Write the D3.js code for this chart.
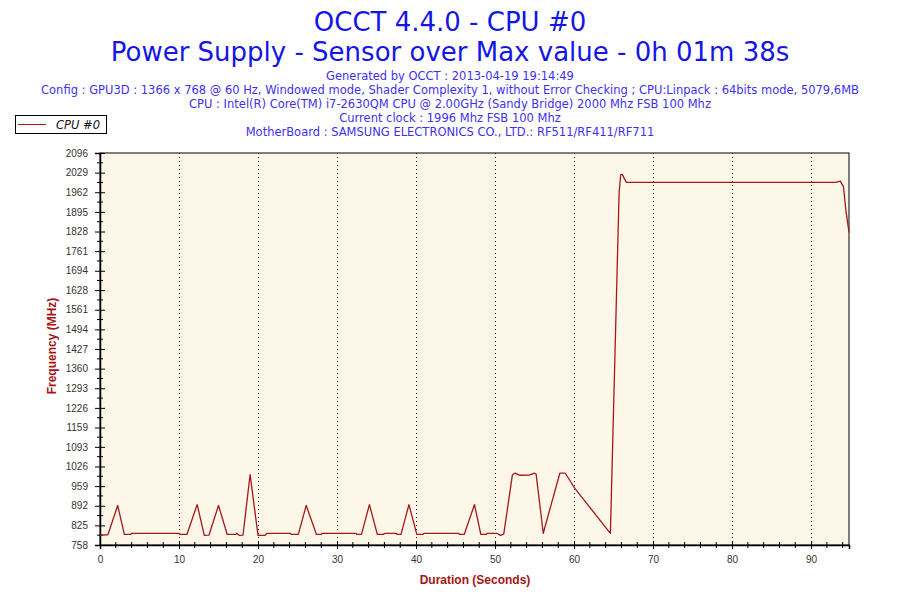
<!DOCTYPE html>
<html>
<head>
<meta charset="utf-8">
<script src="https://cdn.jsdelivr.net/npm/d3@7"></script>
<style>
  body { margin: 0; background: #fff; }
</style>
</head>
<body>
<script>
// values
const times = [0, 1.0, 2.24, 3.08, 3.9, 4.0, 10.0, 10.1, 11.0, 12.3, 13.2, 13.8, 15.0, 16.1, 17.2, 17.3, 17.6, 18.1,
  19.0, 20.0, 20.9, 21.1, 24.1, 24.2, 25.1, 26.1, 27.4, 28.0, 28.1, 32.4, 32.5, 33.1, 34.1, 35.1, 35.9, 36.0,
  37.5, 37.6, 38.1, 39.1, 40.1, 40.9, 41.0, 45.4, 45.5, 46.1, 47.4, 48.2, 48.9, 49.0, 50.2, 50.7, 51.1, 52.2,
  52.5, 53.2, 54.4, 55.0, 55.2, 56.1, 58.2, 58.9, 60.1, 64.6, 65.7, 65.9, 66.1, 66.6, 93.1, 93.7, 94.1, 94.4, 94.8]
const freqs = [792, 793, 893, 794, 794, 798, 798, 794, 794, 896, 791, 792, 893, 794, 794, 798, 791, 792,
  998, 791, 791, 798, 798, 794, 794, 893, 794, 794, 798, 798, 794, 794, 896, 794, 794, 798,
  798, 794, 794, 896, 794, 794, 798, 798, 794, 794, 896, 794, 794, 798, 798, 791, 795, 998,
  1003, 996, 997, 1003, 1000, 798, 1003, 1003, 951, 798, 1958, 2021, 2023, 1996, 1996, 2000, 1981, 1901, 1825]

const yTickLabels = [758, 825, 892, 959, 1026, 1093, 1159, 1226, 1293, 1360, 1427, 1494, 1561, 1628, 1694,
  1761, 1828, 1895, 1962, 2029, 2096]
const xTickLabels = [0, 10, 20, 30, 40, 50, 60, 70, 80, 90]
const xMinorTicks = d3.range(0, 95, 2)

const titleLines = ['OCCT 4.4.0 - CPU #0', 'Power Supply - Sensor over Max value - 0h 01m 38s']
const infoLines = [
  'Generated by OCCT : 2013-04-19 19:14:49',
  'Config : GPU3D : 1366 x 768 @ 60 Hz, Windowed mode, Shader Complexity 1, without Error Checking ; CPU:Linpack : 64bits mode, 5079,6MB',
  'CPU : Intel(R) Core(TM) i7-2630QM CPU @ 2.00GHz (Sandy Bridge) 2000 Mhz FSB 100 Mhz',
  'Current clock : 1996 Mhz FSB 100 Mhz',
  'MotherBoard : SAMSUNG ELECTRONICS CO., LTD.: RF511/RF411/RF711'
]
const seriesName = 'CPU #0'

const width = 900
const height = 600
const plotLeft = 100
const plotRight = 849
const plotTop = 153
const plotBottom = 545
const lineColor = '#a51818'
const axisTitleColor = '#a31515'

const svg = d3.select('body').append('svg')
  .attr('xmlns', 'http://www.w3.org/2000/svg')
  .attr('width', width)
  .attr('height', height)

const x = d3.scaleLinear().domain([0, 94.8]).range([plotLeft, plotRight])
const y = d3.scaleLinear().domain([758, 2096]).range([plotBottom, plotTop])

// titles
svg.selectAll('text.title')
  .data(titleLines)
  .enter().append('text')
  .attr('class', 'title')
  .attr('x', 450)
  .attr('y', function (d, i) { return 31 + i * 30 })
  .attr('text-anchor', 'middle')
  .style('font-family', 'DejaVu Sans, Verdana, sans-serif')
  .style('font-size', '26px')
  .style('fill', '#1515e6')
  .text(function (d) { return d })

svg.selectAll('text.info')
  .data(infoLines)
  .enter().append('text')
  .attr('class', 'info')
  .attr('x', 450)
  .attr('y', function (d, i) { return 80 + i * 14 })
  .attr('text-anchor', 'middle')
  .style('font-family', 'DejaVu Sans, Verdana, sans-serif')
  .style('font-size', '11.5px')
  .style('fill', '#3f2fef')
  .text(function (d) { return d })

// plot background
svg.append('rect')
  .attr('x', plotLeft)
  .attr('y', plotTop)
  .attr('width', plotRight - plotLeft)
  .attr('height', plotBottom - plotTop)
  .style('fill', '#fdf7e9')
  .style('stroke', '#000')
  .style('stroke-width', 1)

// vertical dotted grid
svg.append('g')
  .selectAll('line')
  .data(xTickLabels.filter(function (d) { return d > 0 }))
  .enter().append('line')
  .attr('x1', function (d) { return Math.round(x(d)) + 0.5 })
  .attr('x2', function (d) { return Math.round(x(d)) + 0.5 })
  .attr('y1', plotTop)
  .attr('y2', plotBottom)
  .style('stroke', '#000')
  .style('stroke-width', 1)
  .style('stroke-dasharray', '1,3')

// y axis
const yAxis = d3.axisLeft(y)
  .tickValues(yTickLabels)
  .tickFormat(d3.format('d'))
  .tickSize(5)
  .tickPadding(7)
const gy = svg.append('g')
  .attr('transform', 'translate(' + plotLeft + ',0)')
  .call(yAxis)
gy.select('.domain').style('stroke-width', 1.5)
gy.selectAll('.tick line').attr('x2', 5).attr('x1', -5)
gy.selectAll('text')
  .style('font-family', 'Liberation Sans, Arial, sans-serif')
  .style('font-size', '10px')
  .style('fill', '#333')

const yMinor = yTickLabels.slice(1).map(function (d, i) { return (d + yTickLabels[i]) / 2 })
gy.selectAll('line.minor')
  .data(yMinor)
  .enter().append('line')
  .attr('class', 'minor')
  .attr('x1', -3)
  .attr('x2', 3)
  .attr('y1', function (d) { return y(d) })
  .attr('y2', function (d) { return y(d) })
  .style('stroke', '#000')

// x axis
const xAxis = d3.axisBottom(x)
  .tickValues(xTickLabels)
  .tickFormat(d3.format('d'))
  .tickSize(4)
  .tickPadding(7)
const gx = svg.append('g')
  .attr('transform', 'translate(0,' + plotBottom + ')')
  .call(xAxis)
gx.select('.domain').style('stroke-width', 1.5)
gx.selectAll('.tick line').attr('y1', -4).attr('y2', 4)
gx.selectAll('text')
  .style('font-family', 'Liberation Sans, Arial, sans-serif')
  .style('font-size', '10px')
  .style('fill', '#333')

gx.selectAll('line.minor')
  .data(xMinorTicks.filter(function (d) { return d % 10 !== 0 }))
  .enter().append('line')
  .attr('class', 'minor')
  .attr('x1', function (d) { return x(d) })
  .attr('x2', function (d) { return x(d) })
  .attr('y1', -3)
  .attr('y2', 3)
  .style('stroke', '#000')

// series line
const line = d3.line()
  .x(function (d, i) { return x(times[i]) })
  .y(function (d) { return y(d) })

svg.append('path')
  .datum(freqs)
  .attr('d', line)
  .style('fill', 'none')
  .style('stroke', lineColor)
  .style('stroke-width', 1.3)
  .style('stroke-linejoin', 'round')

// axis titles
svg.append('text')
  .attr('x', 475)
  .attr('y', 584)
  .attr('text-anchor', 'middle')
  .style('font-family', 'Liberation Sans, Arial, sans-serif')
  .style('font-size', '12px')
  .style('font-weight', 'bold')
  .style('fill', axisTitleColor)
  .text('Duration (Seconds)')

svg.append('text')
  .attr('transform', 'translate(56,346) rotate(-90)')
  .attr('text-anchor', 'middle')
  .style('font-family', 'Liberation Sans, Arial, sans-serif')
  .style('font-size', '12px')
  .style('font-weight', 'bold')
  .style('fill', axisTitleColor)
  .text('Frequency (MHz)')

// legend
const legend = svg.append('g')
legend.append('rect')
  .attr('x', 15.5)
  .attr('y', 115.5)
  .attr('width', 91)
  .attr('height', 18)
  .style('fill', '#fff')
  .style('stroke', '#000')
legend.append('line')
  .attr('x1', 18)
  .attr('x2', 46)
  .attr('y1', 124.5)
  .attr('y2', 124.5)
  .style('stroke', lineColor)
legend.append('text')
  .attr('x', 56)
  .attr('y', 128.5)
  .style('font-family', 'DejaVu Sans, Verdana, sans-serif')
  .style('font-size', '11.5px')
  .style('font-style', 'italic')
  .style('fill', '#111')
  .text(seriesName)
</script>
</body>
</html>
